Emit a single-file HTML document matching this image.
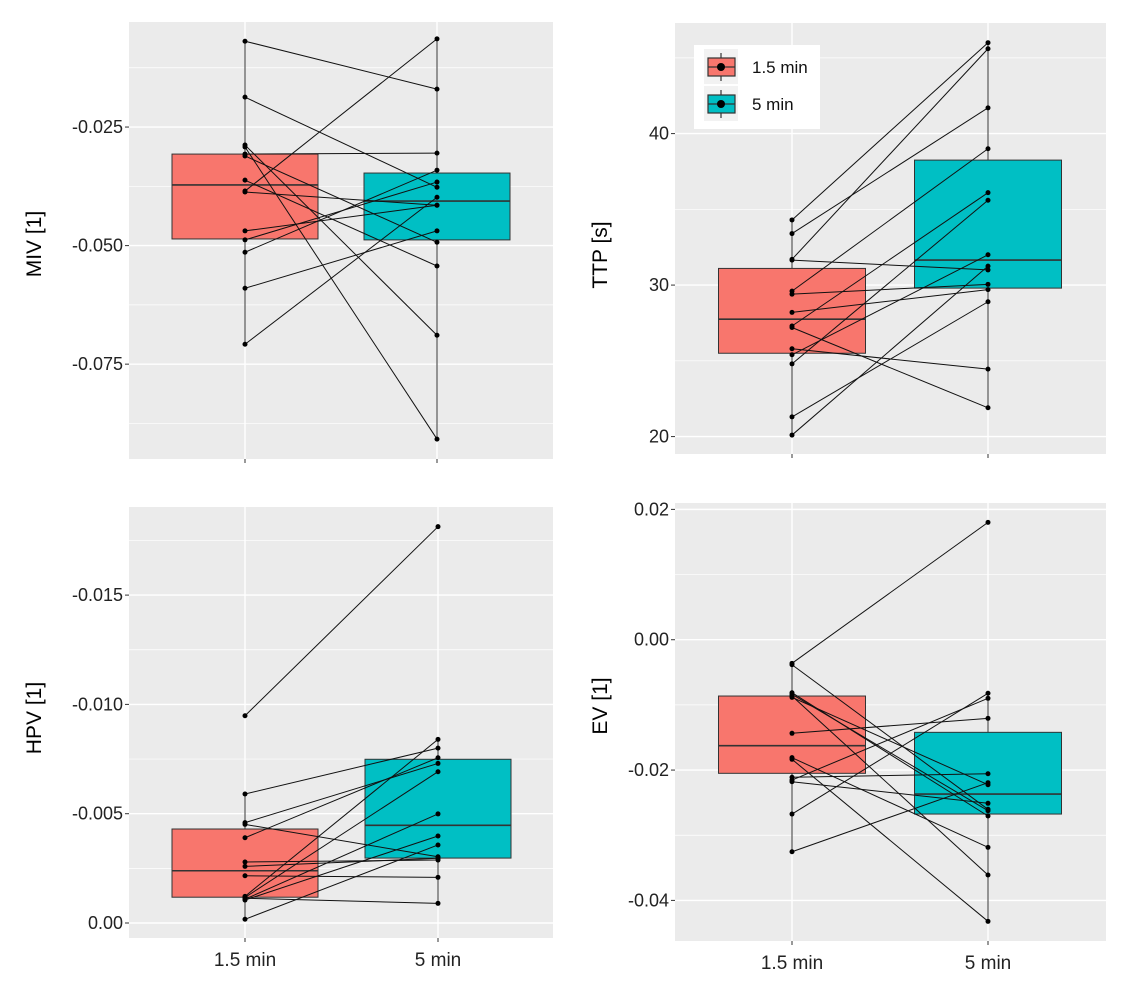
<!DOCTYPE html>
<html><head><meta charset="utf-8"><style>
body{margin:0;background:#fff;}
svg{display:block;font-family:"Liberation Sans",sans-serif;}
</style></head><body>
<svg id="chart" width="1122" height="990" viewBox="0 0 1122 990"></svg>
<script>
const categories = ["1.5 min","5 min"];
// MIV
const mivLeft  = [-0.0069,-0.0187,-0.0288,-0.0292,-0.0307,-0.0311,-0.0362,-0.0385,-0.0387,-0.0469,-0.0488,-0.0514,-0.0590,-0.0708];
const mivRight = [-0.0170,-0.0377,-0.0689,-0.0908,-0.0305,-0.0493,-0.0543,-0.0064,-0.0415,-0.0415,-0.0366,-0.0341,-0.0469,-0.0398];
const mivBox1 = [-0.0486,-0.0372,-0.0307];
const mivBox2 = [-0.0488,-0.0406,-0.0347];
const mivWhisk1 = [-0.0708,-0.0069];
const mivWhisk2 = [-0.0908,-0.0064];
const mivTicks = [-0.025,-0.050,-0.075];
const mivTickLabels = ["-0.025","-0.050","-0.075"];
const mivMinor = [-0.0125,-0.0375,-0.0625,-0.0875];
// TTP
const ttpLeft  = [34.3,33.4,31.7,31.65,29.6,29.4,28.2,27.3,27.2,25.8,25.4,24.8,21.3,20.1];
const ttpRight = [46.0,41.7,45.6,31.0,39.0,30.05,29.7,36.1,21.9,24.45,32.0,35.6,28.9,31.25];
const ttpBox1 = [25.5,27.75,31.1];
const ttpBox2 = [29.8,31.65,38.25];
const ttpWhisk1 = [20.1,34.3];
const ttpWhisk2 = [21.9,46.0];
const ttpTicks = [40,30,20];
const ttpTickLabels = ["40","30","20"];
const ttpMinor = [45,35,25];
// HPV
const hpvLeft  = [-0.00948,-0.0059,-0.00459,-0.00451,-0.0039,-0.00279,-0.00259,-0.00216,-0.00122,-0.00117,-0.00109,-0.00105,-0.00017,-0.00113];
const hpvRight = [-0.01813,-0.0080,-0.0073,-0.00303,-0.00756,-0.00288,-0.00296,-0.00209,-0.0084,-0.00692,-0.00499,-0.00398,-0.00357,-0.0009];
const hpvBox1 = [-0.00118,-0.00239,-0.0043];
const hpvBox2 = [-0.00297,-0.00447,-0.00749];
const hpvWhisk1 = [-0.00017,-0.0059];
const hpvWhisk2 = [-0.0009,-0.0084];
const hpvTicks = [-0.015,-0.010,-0.005,0];
const hpvTickLabels = ["-0.015","-0.010","-0.005","0.00"];
const hpvMinor = [-0.0175,-0.0125,-0.0075,-0.0025];
// EV
const evLeft  = [-0.00362,-0.00384,-0.00813,-0.00838,-0.00864,-0.00884,-0.01436,-0.0181,-0.01835,-0.02111,-0.02153,-0.02179,-0.02675,-0.03253];
const evRight = [0.01801,-0.02602,-0.02705,-0.02624,-0.0361,-0.02225,-0.01206,-0.03186,-0.04321,-0.02056,-0.00899,-0.0251,-0.00822,-0.02194];
const evBox1 = [-0.0205,-0.01626,-0.00864];
const evBox2 = [-0.02675,-0.02368,-0.01421];
const evWhisk1 = [-0.03253,-0.00362];
const evWhisk2 = [-0.04321,-0.00822];
const evTicks = [0.02,0,-0.02,-0.04];
const evTickLabels = ["0.02","0.00","-0.02","-0.04"];
const evMinor = [0.01,-0.01,-0.03];

const NS="http://www.w3.org/2000/svg";
const svg=document.getElementById('chart');
function mk(tag,attrs,parent){const e=document.createElementNS(NS,tag);for(const k in attrs)e.setAttribute(k,attrs[k]);(parent||svg).appendChild(e);return e;}

function panel(p){
  const g=mk('g',{});
  
  
  const y=v=>p.top+(v-p.dTop)/(p.dBot-p.dTop)*(p.bottom-p.top);
  const x=i=>p.cx[i];
  const bg=mk('rect',{x:p.left,y:p.top,width:p.right-p.left,height:p.bottom-p.top,fill:'#ebebeb'},g);
  
  
  p.minor.forEach(v=>{const l=mk('line',{x1:p.left,x2:p.right,y1:y(v),y2:y(v),stroke:'#fff','stroke-width':0.7},g);
    });
  p.ticks.forEach((v,i)=>{
    const l=mk('line',{x1:p.left,x2:p.right,y1:y(v),y2:y(v),stroke:'#fff','stroke-width':1.4},g);
    
    const t=mk('line',{x1:p.left-4,x2:p.left,y1:y(v),y2:y(v),stroke:'#333','stroke-width':1},g);
    
    const tx=mk('text',{x:p.left-6,y:y(v)+6,'text-anchor':'end','font-size':18,fill:'#222'},g);
    tx.textContent=p.tickLabels[i];
    
  });
  [0,1].forEach(i=>{
    const l=mk('line',{x1:x(i),x2:x(i),y1:p.top,y2:p.bottom,stroke:'#fff','stroke-width':1.4},g);
    
    const t=mk('line',{x1:x(i),x2:x(i),y1:p.bottom,y2:p.bottom+4,stroke:'#333','stroke-width':1},g);
    
    if(p.xlabels){const tx=mk('text',{x:x(i),y:p.bottom+28,'text-anchor':'middle','font-size':19,fill:'#222'},g);
      tx.textContent=categories[i];}
  });
  const boxes=[p.box1,p.box2],fills=['#F8766D','#00BFC4'],wh=[p.whisk1,p.whisk2];
  boxes.forEach((b,i)=>{
    const w=mk('line',{x1:x(i),x2:x(i),y1:y(wh[i][1]),y2:y(wh[i][0]),stroke:'#333','stroke-width':1},g);
    
    const r=mk('rect',{x:x(i)-p.bw/2,y:Math.min(y(b[0]),y(b[2])),width:p.bw,height:Math.abs(y(b[2])-y(b[0])),fill:fills[i],stroke:'#333','stroke-width':1},g);
    
    const m=mk('line',{x1:x(i)-p.bw/2,x2:x(i)+p.bw/2,y1:y(b[1]),y2:y(b[1]),stroke:'#333','stroke-width':1.6},g);
    
  });
  p.left0.forEach((v,k)=>{
    const l=mk('line',{x1:x(0),y1:y(v),x2:x(1),y2:y(p.right0[k]),stroke:'#111','stroke-width':1},g);
    
  });
  [p.left0,p.right0].forEach((arr,i)=>arr.forEach(v=>{
    const c=mk('circle',{cx:x(i),cy:y(v),r:2.5,fill:'#000'},g);
    
  }));
  const tt=mk('text',{x:p.titleX,y:p.titleY,'text-anchor':'middle','font-size':21,fill:'#000',transform:`rotate(-90 ${p.titleX} ${p.titleY})`},g);
  tt.textContent=p.title;
}

panel({name:'miv',left:129,right:553,top:22,bottom:459,dTop:-0.00285,dBot:-0.0950,cx:[245,437],bw:146,
  left0:mivLeft,right0:mivRight,box1:mivBox1,box2:mivBox2,whisk1:mivWhisk1,whisk2:mivWhisk2,ticks:mivTicks,tickLabels:mivTickLabels,minor:mivMinor,
  title:'MIV [1]',titleX:41,titleY:244,xlabels:false});
panel({name:'ttp',left:675,right:1106,top:23,bottom:454,dTop:47.3,dBot:18.85,cx:[792,988],bw:147,
  left0:ttpLeft,right0:ttpRight,box1:ttpBox1,box2:ttpBox2,whisk1:ttpWhisk1,whisk2:ttpWhisk2,ticks:ttpTicks,tickLabels:ttpTickLabels,minor:ttpMinor,
  title:'TTP [s]',titleX:607,titleY:255,xlabels:false});
panel({name:'hpv',left:129,right:553,top:507,bottom:938,dTop:-0.01903,dBot:0.000686,cx:[245,438],bw:146,
  left0:hpvLeft,right0:hpvRight,box1:hpvBox1,box2:hpvBox2,whisk1:hpvWhisk1,whisk2:hpvWhisk2,ticks:hpvTicks,tickLabels:hpvTickLabels,minor:hpvMinor,
  title:'HPV [1]',titleX:41,titleY:718,xlabels:true});
panel({name:'ev',left:675,right:1106,top:503,bottom:941,dTop:0.02098,dBot:-0.04623,cx:[792,988],bw:147,
  left0:evLeft,right0:evRight,box1:evBox1,box2:evBox2,whisk1:evWhisk1,whisk2:evWhisk2,ticks:evTicks,tickLabels:evTickLabels,minor:evMinor,
  title:'EV [1]',titleX:607,titleY:706,xlabels:true});

// legend
const lg=mk('g',{});


mk('rect',{x:694,y:45,width:126,height:84,fill:'#fff'},lg);
const lfills=['#F8766D','#00BFC4'];
categories.forEach((c,i)=>{
  const cy=67+i*37;
  const e=mk('g',{},lg);
  
  
  mk('rect',{x:704,y:cy-18,width:34,height:35,fill:'#f2f2f2'},e);
  mk('line',{x1:721,x2:721,y1:cy-14,y2:cy+14,stroke:'#333','stroke-width':1.2},e);
  mk('rect',{x:708,y:cy-9,width:27,height:18,fill:lfills[i],stroke:'#333','stroke-width':1.2},e);
  mk('line',{x1:708,x2:735,y1:cy,y2:cy,stroke:'#333','stroke-width':1.2},e);
  mk('circle',{cx:721,cy:cy,r:4,fill:'#000'},e);
  const t=mk('text',{x:752,y:cy+6,'font-size':17,fill:'#111'},e);
  t.textContent=c;
});
</script>
</body></html>
